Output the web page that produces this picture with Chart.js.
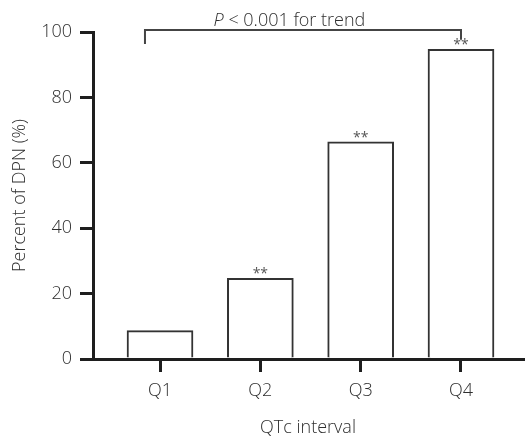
<!DOCTYPE html>
<html><head><meta charset="utf-8">
<script src="https://cdn.jsdelivr.net/npm/chart.js@4.4.1/dist/chart.umd.min.js"></script>
<style>html,body{margin:0;padding:0;background:#fff}#wrap{width:531px;height:438px}</style>
</head><body><div id="wrap"><canvas id="c" width="531" height="438"></canvas></div>
<script>
const categories = ['Q1', 'Q2', 'Q3', 'Q4'];
const percentDPN = [8.7, 24.7, 66.4, 94.7];
const significance = ['', '**', '**', '**'];
const yTickValues = [0, 20, 40, 60, 80, 100];
const trendItalic = 'P';
const trendRest = ' < 0.001 for trend';
const xTitle = 'QTc interval';
const yTitle = 'Percent of DPN (%)';

const FONT = "'Open Sans', 'Noto Sans', sans-serif";
const TEXT = '#2e2e2e';
const AXIS = '#1e1e1e';
const FW = '300';
const FS = 18;

const annotations = {
  id: 'annotations',
  afterDatasetsDraw(chart) {
    const ctx = chart.ctx;
    const xs = chart.scales.x, ys = chart.scales.y;
    const meta = chart.getDatasetMeta(0);
    ctx.save();
    ctx.fillStyle = '#555';
    ctx.font = "400 14px " + FONT;
    ctx.textAlign = 'center';
    ctx.textBaseline = 'alphabetic';
    meta.data.forEach((bar, i) => {
      if (significance[i]) ctx.fillText(significance[i], bar.x, bar.y);
    });
    const xl = xs.getPixelForValue(0.85), xr = xs.getPixelForValue(4);
    const yt = ys.getPixelForValue(100.6);
    ctx.strokeStyle = '#444';
    ctx.lineWidth = 2;
    ctx.beginPath();
    ctx.moveTo(xl, ys.getPixelForValue(96.3));
    ctx.lineTo(xl, yt);
    ctx.lineTo(xr, yt);
    ctx.lineTo(xr, ys.getPixelForValue(97.6));
    ctx.stroke();
    const cx = xs.getPixelForValue(2.29);
    ctx.font = "italic " + FW + " " + FS + "px " + FONT;
    const w1 = ctx.measureText(trendItalic).width;
    ctx.font = FW + " " + FS + "px " + FONT;
    const w2 = ctx.measureText(trendRest).width;
    const start = cx - (w1 + w2) / 2;
    ctx.textAlign = 'left';
    ctx.fillStyle = TEXT;
    ctx.font = "italic " + FW + " " + FS + "px " + FONT;
    ctx.fillText(trendItalic, start, 26);
    ctx.font = FW + " " + FS + "px " + FONT;
    ctx.fillText(trendRest, start + w1, 26);
    ctx.restore();
  }
};

new Chart(document.getElementById('c'), {
  type: 'bar',
  data: {
    datasets: [{
      data: categories.map((c, i) => ({ x: i + 1, y: percentDPN[i] })),
      backgroundColor: '#ffffff',
      borderColor: '#333333',
      borderWidth: 2,
      borderSkipped: 'start',
      barThickness: 66
    }]
  },
  options: {
    responsive: false,
    animation: false,
    layout: { padding: { left: 0, top: 32, right: 8, bottom: 0 } },
    plugins: { legend: { display: false }, tooltip: { enabled: false } },
    scales: {
      x: {
        type: 'linear',
        offset: false,
        min: 0.332,
        max: 4.618,
        afterBuildTicks: s => { s.ticks = categories.map((c, i) => ({ value: i + 1 })); },
        afterFit: s => { s.height = 79; },
        ticks: {
          callback: v => categories[Math.round(v) - 1],
          color: TEXT,
          font: { family: FONT, size: FS, weight: FW },
          padding: 8,
          autoSkip: false,
          maxRotation: 0
        },
        grid: { offset: false, drawOnChartArea: false, drawTicks: true, tickLength: 13, lineWidth: 3, color: AXIS },
        border: { display: true, width: 3, color: AXIS },
        title: { display: true, text: xTitle, color: TEXT, font: { family: FONT, size: FS, weight: FW }, padding: { top: 0, bottom: -1 } }
      },
      y: {
        min: 0,
        max: 100,
        afterBuildTicks: s => { s.ticks = yTickValues.map(v => ({ value: v })); },
        afterFit: s => { s.width = 93; },
        ticks: {
          color: TEXT,
          font: { family: FONT, size: FS, weight: FW },
          padding: 8
        },
        grid: { drawOnChartArea: false, drawTicks: true, tickLength: 13, lineWidth: 3, color: AXIS },
        border: { display: true, width: 3, color: AXIS },
        title: { display: true, text: yTitle, color: TEXT, font: { family: FONT, size: FS, weight: FW }, padding: { top: 9, bottom: 0 } }
      }
    }
  },
  plugins: [annotations]
});
</script>
</body></html>
